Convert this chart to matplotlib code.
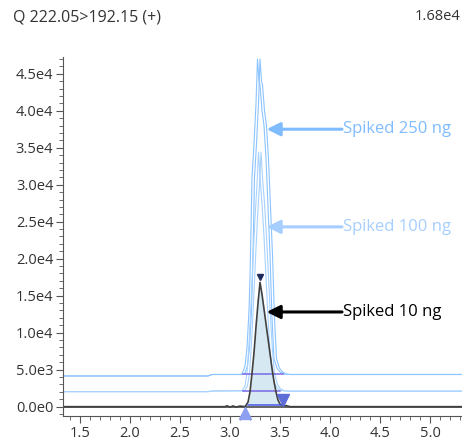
"""
Extracted ion chromatogram, Q 222.05>192.15, three spike levels overlaid.
"""
import matplotlib
matplotlib.use('Agg')
import matplotlib.pyplot as plt
from matplotlib.ticker import MultipleLocator, FuncFormatter

plt.rcParams['font.family'] = ['Open Sans', 'DejaVu Sans']

# retention time (min) / intensity
rt_10ng = [1.33, 2.95, 2.97, 3.00, 3.03, 3.06, 3.10, 3.15, 3.18, 3.20, 3.22, 3.24,
           3.26, 3.28, 3.30, 3.32, 3.34, 3.36, 3.38, 3.40, 3.42, 3.44, 3.46, 3.48,
           3.50, 3.53, 3.56, 3.60, 5.32]
int_10ng = [0, 0, 120, -60, 100, -50, 80, 0, 600, 2000, 4500, 7300,
            10800, 14000, 16800, 15200, 13200, 11200, 9200, 7200, 5200, 3400, 2000, 900,
            350, 100, 150, 0, 0]

rt_100ng = [1.33, 2.78, 2.82, 3.12, 3.15, 3.17, 3.19, 3.21, 3.23, 3.25, 3.27, 3.285,
            3.30, 3.32, 3.34, 3.36, 3.38, 3.40, 3.42, 3.45, 3.48, 3.52, 3.60, 5.32]
int_100ng = [2030, 2030, 2120, 2150, 2800, 4500, 8500, 14000, 20000, 25500, 30000, 34400,
             31000, 27500, 23000, 17500, 12000, 7500, 4500, 3000, 2400, 2150, 2100, 2100]

rt_250ng = [1.33, 2.78, 2.82, 3.10, 3.12, 3.15, 3.17, 3.19, 3.20, 3.21, 3.22, 3.24,
            3.26, 3.275, 3.29, 3.30, 3.32, 3.34, 3.36, 3.38, 3.40, 3.42, 3.44, 3.47,
            3.50, 3.54, 3.60, 5.32]
int_250ng = [4150, 4150, 4350, 4350, 4400, 5500, 8000, 13000, 17500, 24000, 31000, 35500,
             41000, 47000, 44000, 43500, 40000, 38000, 33500, 27000, 20500, 12000, 6500, 5200,
             4700, 4400, 4350, 4350]

# integration window (start, end) and baseline level per trace
integ_10ng = (3.18, 3.52, 230)
integ_100ng = (3.13, 3.50, 2120)
integ_250ng = (3.13, 3.53, 4380)

peak_rt = 3.30
peak_height = 16800

labels = ["Spiked 250 ng", "Spiked 100 ng", "Spiked 10 ng"]
label_y = [37500, 24300, 12800]
label_colors = ["#7fbcff", "#a6cfff", "#000000"]


def sci_label(v, pos):
    if v == 0:
        return "0.0e0"
    s = f"{v:.1e}"
    mant, exp = s.split("e")
    return f"{mant}e{int(exp)}"


fig = plt.figure(figsize=(4.62, 4.40), dpi=100)
ax = fig.add_axes([63 / 462, 24 / 440, 399 / 462, 359 / 440])

# blue traces drawn twice, slightly offset, like the doubled outline in the source
for rt, ys, col in [(rt_250ng, int_250ng, "#8cc4ff"), (rt_100ng, int_100ng, "#a8d2ff")]:
    ax.plot(rt, ys, color=col, lw=0.8)
    ax.plot([r + 0.025 if 3.1 < r < 3.6 else r for r in rt], ys, color=col, lw=0.8)

for start, end, lvl in [integ_250ng, integ_100ng]:
    ax.plot([start, end], [lvl, lvl], color="#7868e6", lw=1.1)

# 10 ng trace with filled integrated area
ax.axhline(0, color="#3c3c3c", lw=1.1)
x_fill = [r for r in rt_10ng if integ_10ng[0] <= r <= integ_10ng[1]]
y_fill = [y for r, y in zip(rt_10ng, int_10ng) if integ_10ng[0] <= r <= integ_10ng[1]]
ax.fill_between(x_fill, y_fill, integ_10ng[2], color="#d6e9f2", lw=0)
ax.plot(rt_10ng, int_10ng, color="#404040", lw=1.2)
ax.plot(integ_10ng[:2], [integ_10ng[2]] * 2, color="#4455e6", lw=1.1)

# peak markers
ax.plot(3.15, -800, marker="^", ms=8, color="#8d9ff0", clip_on=False, zorder=5)
ax.plot(3.53, 900, marker="v", ms=8, color="#5d6dd8", zorder=5)
ax.plot(peak_rt, peak_height + 700, marker="v", ms=5, color="#1e2a5c", zorder=5)

for txt, ly, col in zip(labels, label_y, label_colors):
    ax.annotate("", xy=(3.367, ly), xytext=(4.12, ly),
                arrowprops=dict(arrowstyle="-|>", color=col, lw=2.2, mutation_scale=20,
                                shrinkA=0, shrinkB=0))
    ax.text(4.13, ly, txt, color=col, fontsize=12, va="center", ha="left")

ax.set_xlim(1.33, 5.32)
ax.set_ylim(-1260, 47260)
ax.xaxis.set_major_locator(MultipleLocator(0.5))
ax.xaxis.set_minor_locator(MultipleLocator(0.1))
ax.yaxis.set_major_locator(MultipleLocator(5000))
ax.yaxis.set_minor_locator(MultipleLocator(1000))
ax.yaxis.set_major_formatter(FuncFormatter(sci_label))
ax.xaxis.set_major_formatter(FuncFormatter(lambda v, p: f"{v:.1f}"))

for side in ["top", "right"]:
    ax.spines[side].set_visible(False)
for side in ["left", "bottom"]:
    ax.spines[side].set_color("#555555")
ax.tick_params(which="major", length=5, color="#555555", labelsize=10.5, labelcolor="#333333",
               pad=2)
ax.tick_params(which="minor", length=3, color="#555555")

fig.text(13 / 462, 1 - 17 / 440, "Q 222.05>192.15 (+)", fontsize=11.5, color="#333333",
         va="center", ha="left")
fig.text(460 / 462, 1 - 17 / 440, "1.68e4", fontsize=10.5, color="#333333",
         va="center", ha="right")

fig.savefig("out.png", dpi=100)
